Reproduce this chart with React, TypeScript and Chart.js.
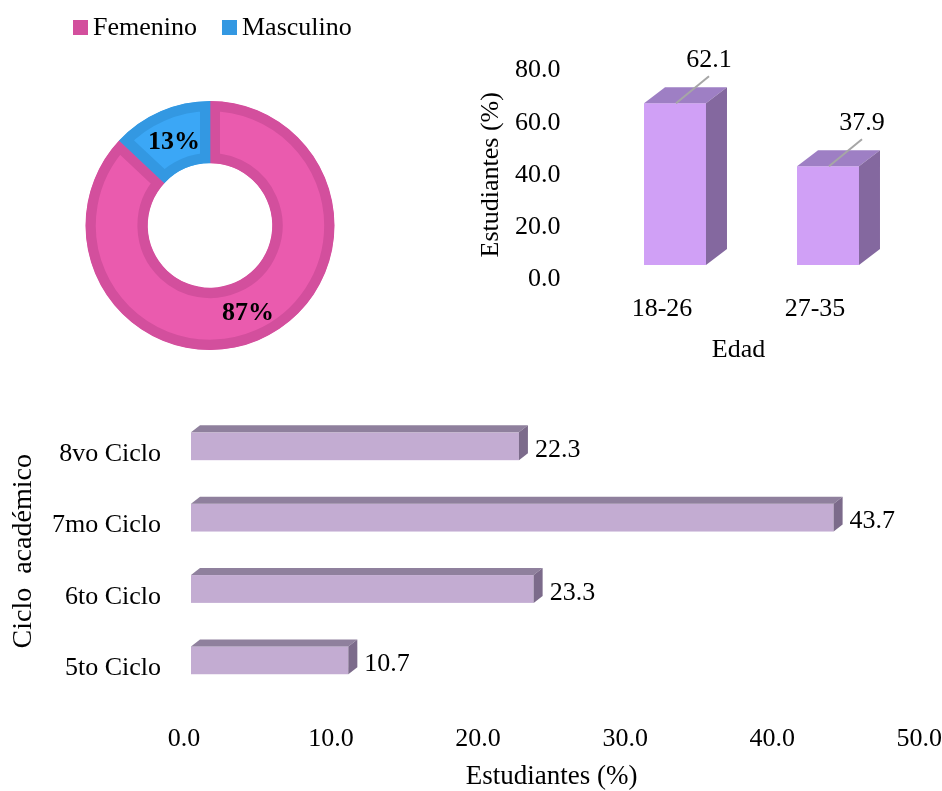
import React, { useEffect, useRef } from 'react';
import { Chart, registerables } from 'chart.js';

Chart.register(...registerables);

const FONT_FAMILY = "'Liberation Serif', 'Times New Roman', serif";

// ---------- data ----------
const genderLabels = ['Femenino', 'Masculino'];
const genderValues = [87, 13];

const ageLabels = ['18-26', '27-35'];
const ageValues = [62.1, 37.9];
const ageAxisMin = 0;
const ageAxisMax = 80;
const ageAxisStep = 20;

const cycleLabels = ['5to Ciclo', '6to Ciclo', '7mo Ciclo', '8vo Ciclo'];
const cycleValues = [10.7, 23.3, 43.7, 22.3];
const cycleAxisMin = 0;
const cycleAxisMax = 50;
const cycleAxisStep = 10;
const cycleAxisTitle = 'Ciclo  académico';

// ---------- styles ----------
const font26 = { family: FONT_FAMILY, size: 26 };
const black = '#000000';

const genderFill = ['#EA5BAE', '#3BA7F6'];
const genderBorder = ['#D34F9D', '#3398E2'];

const ageColors = { front: '#D0A0F6', top: '#9E7FC4', side: '#84689F' };
const cycleColors = { front: '#C3ACD2', top: '#8F809D', side: '#7C6B8B' };

// ---------- plugins ----------
const doughnutLegendPlugin = {
  id: 'customLegend',
  afterDraw(chart: any) {
    const ctx = chart.ctx;
    const labels: string[] = chart.data.labels;
    ctx.save();
    ctx.font = `26px ${FONT_FAMILY}`;
    ctx.textBaseline = 'middle';
    ctx.textAlign = 'left';
    let x = 73;
    const boxY = 20;
    const box = 15;
    labels.forEach((lab, i) => {
      ctx.fillStyle = genderBorder[i];
      ctx.fillRect(x, boxY, box, box);
      ctx.fillStyle = black;
      ctx.fillText(lab, x + box + 5, boxY + box / 2 + 1);
      x += box + 5 + ctx.measureText(lab).width + 25;
    });
    ctx.restore();
  },
};

const doughnutPctPlugin = {
  id: 'pctLabels',
  afterDatasetsDraw(chart: any) {
    const ctx = chart.ctx;
    const meta = chart.getDatasetMeta(0);
    const data = chart.data.datasets[0].data;
    ctx.save();
    ctx.font = `bold 26px ${FONT_FAMILY}`;
    ctx.fillStyle = black;
    ctx.textAlign = 'center';
    ctx.textBaseline = 'middle';
    meta.data.forEach((arc: any, i: number) => {
      const p = arc.tooltipPosition(true);
      ctx.fillText(`${data[i]}%`, p.x + 1, p.y + 2);
    });
    ctx.restore();
  },
};

const ageBars3D = {
  id: 'ageBars3D',
  afterDatasetsDraw(chart: any) {
    const ctx = chart.ctx;
    const meta = chart.getDatasetMeta(0);
    const data = chart.data.datasets[0].data;
    const offX = 13, offY = -14, dx = 21, dy = -16;
    ctx.save();
    meta.data.forEach((bar: any, i: number) => {
      const { x, y, base, width } = bar.getProps(['x', 'y', 'base', 'width'], true);
      const l = x - width / 2 + offX;
      const r = x + width / 2 + offX;
      const t = y + offY;
      const b = base + offY;
      ctx.fillStyle = ageColors.front;
      ctx.fillRect(l, t, r - l, b - t);
      ctx.fillStyle = ageColors.top;
      ctx.beginPath();
      ctx.moveTo(l, t);
      ctx.lineTo(l + dx, t + dy);
      ctx.lineTo(r + dx, t + dy);
      ctx.lineTo(r, t);
      ctx.closePath();
      ctx.fill();
      ctx.fillStyle = ageColors.side;
      ctx.beginPath();
      ctx.moveTo(r, t);
      ctx.lineTo(r + dx, t + dy);
      ctx.lineTo(r + dx, b + dy);
      ctx.lineTo(r, b);
      ctx.closePath();
      ctx.fill();
      // leader line + label
      const cx = (l + r) / 2 + 1;
      const ex = cx + 33;
      const ey = t - 27;
      ctx.strokeStyle = '#A6A6A6';
      ctx.lineWidth = 2;
      ctx.beginPath();
      ctx.moveTo(cx, t);
      ctx.lineTo(ex, ey);
      ctx.stroke();
      ctx.fillStyle = black;
      ctx.font = `26px ${FONT_FAMILY}`;
      ctx.textAlign = 'center';
      ctx.textBaseline = 'middle';
      ctx.fillText(Number(data[i]).toFixed(1), ex, ey - 16);
    });
    ctx.restore();
  },
};

const cycleBars3D = {
  id: 'cycleBars3D',
  afterDatasetsDraw(chart: any) {
    const ctx = chart.ctx;
    const meta = chart.getDatasetMeta(0);
    const data = chart.data.datasets[0].data;
    const offX = 7, offY = -8, dx = 9, dy = -7;
    ctx.save();
    meta.data.forEach((bar: any, i: number) => {
      const { x, y, base, height } = bar.getProps(['x', 'y', 'base', 'height'], true);
      const l = base + offX;
      const r = x + offX;
      const t = y - height / 2 + offY;
      const b = y + height / 2 + offY;
      ctx.fillStyle = cycleColors.front;
      ctx.fillRect(l, t, r - l, b - t);
      ctx.fillStyle = cycleColors.top;
      ctx.beginPath();
      ctx.moveTo(l, t);
      ctx.lineTo(l + dx, t + dy);
      ctx.lineTo(r + dx, t + dy);
      ctx.lineTo(r, t);
      ctx.closePath();
      ctx.fill();
      ctx.fillStyle = cycleColors.side;
      ctx.beginPath();
      ctx.moveTo(r, t);
      ctx.lineTo(r + dx, t + dy);
      ctx.lineTo(r + dx, b + dy);
      ctx.lineTo(r, b);
      ctx.closePath();
      ctx.fill();
      ctx.fillStyle = black;
      ctx.font = `26px ${FONT_FAMILY}`;
      ctx.textAlign = 'left';
      ctx.textBaseline = 'middle';
      ctx.fillText(Number(data[i]).toFixed(1), x + 23, y - 4);
    });
    ctx.restore();
  },
};

const cycleTitlePlugin = {
  id: 'cycleTitle',
  afterDraw(chart: any) {
    const ctx = chart.ctx;
    const area = chart.chartArea;
    ctx.save();
    ctx.translate(24, (area.top + area.bottom) / 2 - 10);
    ctx.rotate(-Math.PI / 2);
    ctx.font = `28px ${FONT_FAMILY}`;
    ctx.fillStyle = black;
    ctx.textAlign = 'center';
    ctx.textBaseline = 'middle';
    ctx.fillText(cycleAxisTitle, 0, 0);
    ctx.restore();
  },
};

export default function App() {
  const donutRef = useRef<HTMLCanvasElement>(null);
  const ageRef = useRef<HTMLCanvasElement>(null);
  const cycleRef = useRef<HTMLCanvasElement>(null);

  useEffect(() => {
    const donut = new Chart(donutRef.current!, {
      type: 'doughnut',
      data: {
        labels: genderLabels,
        datasets: [
          {
            data: genderValues,
            backgroundColor: genderFill,
            borderColor: genderBorder,
            borderWidth: 10,
            hoverBorderWidth: 10,
            borderAlign: 'inner',
          } as any,
        ],
      },
      options: {
        responsive: false,
        animation: false,
        cutout: '50%',
        layout: { padding: { top: 101, bottom: 10, left: 0, right: 0 } },
        plugins: { legend: { display: false }, tooltip: { enabled: false } },
      },
      plugins: [doughnutLegendPlugin, doughnutPctPlugin],
    });

    const age = new Chart(ageRef.current!, {
      type: 'bar',
      data: {
        labels: ageLabels,
        datasets: [
          {
            data: ageValues,
            backgroundColor: 'rgba(0,0,0,0)',
            borderWidth: 0,
            barPercentage: 0.405,
            categoryPercentage: 1,
          },
        ],
      },
      options: {
        responsive: false,
        animation: false,
        layout: { padding: { top: 36.5, right: 50.5, left: 0, bottom: 0 } },
        scales: {
          x: {
            grid: { display: false, drawTicks: false },
            border: { display: false },
            ticks: { font: font26, color: black, padding: 15 },
            title: { display: true, text: 'Edad', font: font26, color: black, padding: { top: 0, bottom: 4 } },
            afterFit: (s: any) => { s.height = 91; },
          },
          y: {
            min: ageAxisMin,
            max: ageAxisMax,
            grid: { display: false, drawTicks: false },
            border: { display: false },
            ticks: {
              stepSize: ageAxisStep,
              font: font26,
              color: black,
              padding: 25,
              callback: (v: any) => Number(v).toFixed(1),
            },
            title: { display: true, text: 'Estudiantes (%)', font: font26, color: black, padding: { top: 6, bottom: 0 } },
            afterFit: (s: any) => { s.width = 115.5; },
          },
        },
        plugins: { legend: { display: false }, tooltip: { enabled: false } },
      },
      plugins: [ageBars3D],
    });

    const cycle = new Chart(cycleRef.current!, {
      type: 'bar',
      data: {
        labels: cycleLabels,
        datasets: [
          {
            data: cycleValues,
            backgroundColor: 'rgba(0,0,0,0)',
            borderWidth: 0,
            barPercentage: 0.39,
            categoryPercentage: 1,
          },
        ],
      },
      options: {
        indexAxis: 'y',
        responsive: false,
        animation: false,
        layout: { padding: { top: 36, right: 0, left: 0, bottom: 0 } },
        scales: {
          x: {
            min: cycleAxisMin,
            max: cycleAxisMax,
            grid: { display: false, drawTicks: false },
            border: { display: false },
            ticks: {
              stepSize: cycleAxisStep,
              font: font26,
              color: black,
              padding: 20,
              callback: (v: any) => Number(v).toFixed(1),
            },
            title: { display: true, text: 'Estudiantes (%)', font: { family: FONT_FAMILY, size: 27 }, color: black, padding: { top: 0, bottom: -2 } },
            afterFit: (s: any) => { s.height = 87; },
          },
          y: {
            reverse: true,
            grid: { display: false, drawTicks: false },
            border: { display: false },
            ticks: { font: font26, color: black, padding: 23 },
            afterFit: (s: any) => { s.width = 184; },
          },
        },
        plugins: { legend: { display: false }, tooltip: { enabled: false } },
      },
      plugins: [cycleBars3D, cycleTitlePlugin],
    });

    return () => {
      donut.destroy();
      age.destroy();
      cycle.destroy();
    };
  }, []);

  return (
    <div style={{ position: 'absolute', left: 0, top: 0, width: 942, height: 791, background: '#ffffff', overflow: 'hidden' }}>
      <canvas ref={donutRef} width={420} height={360} style={{ position: 'absolute', left: 0, top: 0 }} />
      <canvas ref={ageRef} width={472} height={340} style={{ position: 'absolute', left: 470, top: 30 }} />
      <canvas ref={cycleRef} width={962} height={411} style={{ position: 'absolute', left: 0, top: 380 }} />
    </div>
  );
}
